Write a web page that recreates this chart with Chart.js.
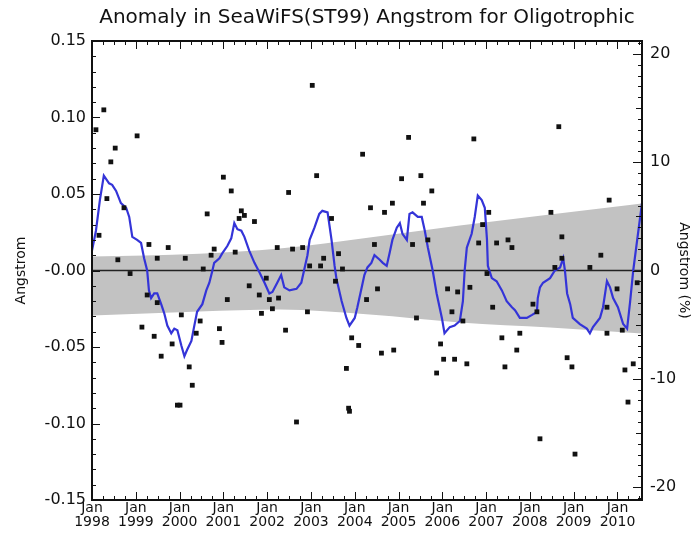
<!DOCTYPE html>
<html>
<head>
<meta charset="utf-8">
<script src="https://cdn.jsdelivr.net/npm/chart.js@4"></script>
<style>
  body { margin: 0; background: #fff; }
  #wrap { width: 696px; height: 538px; position: relative; }
</style>
</head>
<body>
<div id="wrap"><canvas id="anomalyChart"></canvas></div>
<script>
const chartTitle = 'Anomaly in SeaWiFS(ST99) Angstrom for Oligotrophic';
const xMin = 1998.0;
const xMax = 2010.56;
const pctMax = 21.2;

// 12-month running anomaly (blue line)
const lineYears = [
  1998.00,1998.09,1998.18,1998.27,1998.39,1998.46,1998.55,1998.66,1998.78,1998.85,
  1998.92,1999.03,1999.12,1999.19,1999.26,1999.30,1999.35,1999.42,1999.49,1999.58,
  1999.65,1999.72,1999.81,1999.88,1999.95,2000.04,2000.11,2000.17,2000.27,2000.33,
  2000.40,2000.52,2000.61,2000.68,2000.75,2000.79,2000.91,2000.97,2001.09,2001.18,
  2001.25,2001.32,2001.41,2001.48,2001.59,2001.71,2001.82,2001.94,2002.05,2002.12,
  2002.23,2002.32,2002.39,2002.51,2002.67,2002.78,2002.85,2002.92,2002.97,2003.08,
  2003.19,2003.26,2003.38,2003.47,2003.54,2003.58,2003.70,2003.81,2003.88,2004.00,
  2004.06,2004.16,2004.22,2004.29,2004.38,2004.45,2004.57,2004.64,2004.73,2004.80,
  2004.86,2004.96,2005.03,2005.09,2005.19,2005.25,2005.32,2005.44,2005.53,2005.60,
  2005.67,2005.78,2005.87,2005.99,2006.05,2006.17,2006.28,2006.40,2006.47,2006.51,
  2006.56,2006.67,2006.74,2006.81,2006.90,2006.97,2007.02,2007.04,2007.13,2007.24,
  2007.36,2007.47,2007.59,2007.66,2007.77,2007.93,2008.05,2008.16,2008.18,2008.23,
  2008.30,2008.46,2008.57,2008.69,2008.76,2008.80,2008.85,2008.92,2008.98,2009.14,
  2009.30,2009.37,2009.44,2009.60,2009.67,2009.76,2009.83,2009.90,2010.01,2010.13,
  2010.22,2010.29,2010.36,2010.45,2010.56
];
const lineValues = [
  0.013,0.026,0.046,0.062,0.057,0.056,0.052,0.044,0.041,0.035,
  0.022,0.020,0.018,0.008,0.000,-0.013,-0.018,-0.015,-0.015,-0.022,
  -0.028,-0.036,-0.041,-0.038,-0.039,-0.049,-0.056,-0.052,-0.046,-0.037,
  -0.027,-0.022,-0.013,-0.008,0.000,0.005,0.008,0.011,0.016,0.021,
  0.031,0.027,0.026,0.022,0.013,0.005,-0.001,-0.008,-0.015,-0.014,
  -0.008,-0.003,-0.011,-0.013,-0.012,-0.008,0.001,0.010,0.020,0.028,
  0.037,0.039,0.038,0.020,0.003,-0.005,-0.020,-0.031,-0.036,-0.031,
  -0.024,-0.011,-0.003,0.002,0.005,0.010,0.007,0.005,0.003,0.012,
  0.020,0.028,0.031,0.024,0.020,0.037,0.038,0.035,0.035,0.026,
  0.015,0.000,-0.015,-0.031,-0.041,-0.037,-0.036,-0.033,-0.020,0.000,
  0.015,0.024,0.035,0.049,0.046,0.041,0.020,0.003,-0.005,-0.007,
  -0.013,-0.020,-0.024,-0.026,-0.031,-0.031,-0.029,-0.027,-0.018,-0.011,
  -0.008,-0.005,0.000,0.002,0.008,0.000,-0.015,-0.022,-0.031,-0.035,
  -0.038,-0.041,-0.037,-0.031,-0.024,-0.007,-0.011,-0.018,-0.024,-0.035,
  -0.038,-0.020,0.000,0.020,0.044
];

// monthly anomalies (black squares)
const dotYears = [
  1998.27,1998.09,1999.03,1998.53,1998.43,1998.34,1998.73,1998.16,1999.30,1999.49,
  1999.74,2000.13,1998.59,2000.63,2001.00,2001.18,2001.41,2001.48,2001.36,2001.71,
  2001.27,2000.79,2000.72,2000.54,2002.23,2003.03,2005.23,2004.18,2003.13,2005.07,
  2005.51,2002.49,2005.76,2005.57,2004.86,2004.36,2004.68,2003.47,2002.58,2002.81,
  2004.45,2005.32,2005.67,2003.63,2003.29,2002.97,2003.22,2003.72,2008.66,2006.72,
  2009.81,2007.06,2008.48,2006.92,2008.73,2006.83,2007.24,2007.50,2007.59,2009.62,
  2009.37,1998.87,1999.26,1999.49,1999.14,1999.42,1999.58,1999.83,2000.04,2000.47,
  2000.38,2000.91,2000.97,2001.09,2000.22,2000.29,1999.95,2000.01,2001.59,2001.87,
  2001.82,2002.05,2001.98,2002.12,2002.26,2002.42,2002.67,2002.92,2003.56,2003.93,
  2004.09,2003.81,2003.86,2003.88,2004.27,2004.52,2004.61,2004.89,2005.41,2005.87,
  2005.96,2006.03,2006.28,2006.12,2006.35,2006.22,2006.56,2006.63,2006.47,2007.02,
  2007.15,2007.36,2007.43,2007.70,2007.77,2008.07,2008.16,2008.23,2008.85,2008.96,
  2009.03,2009.76,2009.76,2009.99,2010.11,2010.17,2010.36,2010.24,2010.45,2008.57,
  2008.73
];
const dotValues = [
  0.105,0.092,0.088,0.080,0.071,0.047,0.041,0.023,0.017,0.008,
  0.015,0.008,0.007,0.037,0.061,0.052,0.039,0.036,0.034,0.032,
  0.012,0.014,0.010,0.001,0.015,0.121,0.087,0.076,0.062,0.060,
  0.062,0.051,0.052,0.044,0.044,0.041,0.038,0.034,0.014,0.015,
  0.017,0.017,0.020,0.011,0.008,0.003,0.003,0.001,0.094,0.086,
  0.046,0.038,0.038,0.030,0.022,0.018,0.018,0.020,0.015,0.010,
  0.002,-0.002,-0.016,-0.021,-0.037,-0.043,-0.056,-0.048,-0.029,-0.033,
  -0.041,-0.038,-0.047,-0.019,-0.063,-0.075,-0.088,-0.088,-0.010,-0.028,
  -0.016,-0.019,-0.005,-0.025,-0.018,-0.039,-0.099,-0.027,-0.007,-0.044,
  -0.049,-0.064,-0.090,-0.092,-0.019,-0.012,-0.054,-0.052,-0.031,-0.067,
  -0.048,-0.058,-0.058,-0.012,-0.014,-0.027,-0.061,-0.011,-0.033,-0.002,
  -0.024,-0.044,-0.063,-0.052,-0.041,-0.022,-0.027,-0.110,-0.057,-0.063,
  -0.120,-0.024,-0.041,-0.012,-0.039,-0.065,-0.061,-0.086,-0.008,0.002,
  0.008
];

// trend confidence band (grey)
const bandYears = [1998.0, 2000.45, 2002.28, 2004.34, 2006.40, 2008.46, 2010.56];
const bandHigh = [0.0092, 0.0110, 0.0144, 0.0216, 0.0294, 0.0366, 0.0438];
const bandLow = [-0.0294, -0.0268, -0.0255, -0.0288, -0.0340, -0.0373, -0.0412];

const yearTicks = [1998, 1999, 2000, 2001, 2002, 2003, 2004, 2005, 2006, 2007, 2008, 2009, 2010];
const leftTickValues = [0.15, 0.10, 0.05, 0.0, -0.05, -0.10, -0.15];
const leftTickLabels = ['0.15', '0.10', '0.05', '-0.00', '-0.05', '-0.10', '-0.15'];
const rightTickValues = [20, 10, 0, -10, -20];
const rightTickLabels = ['20', '10', '0', '-10', '-20'];

const FONT = "'DejaVu Sans', sans-serif";

function pairs(xs, ys) {
    return xs.map((x, i) => ({ x: x, y: ys[i] }));
}

// IDL-style frame with inward ticks
const framePlugin = {
    id: 'frame',
    afterDatasetsDraw(chart) {
        const { ctx, chartArea: a, scales } = chart;
        const x = scales.x, y = scales.y, y2 = scales.y2;
        ctx.save();
        ctx.strokeStyle = '#111';
        ctx.lineWidth = 1;
        ctx.beginPath();
        for (let q = 0; xMin + q / 4 <= xMax + 1e-6; q++) {
            const px = Math.round(x.getPixelForValue(xMin + q / 4)) + 0.5;
            const len = q % 4 === 0 ? 8 : 4;
            ctx.moveTo(px, a.bottom); ctx.lineTo(px, a.bottom - len);
            ctx.moveTo(px, a.top); ctx.lineTo(px, a.top + len);
        }
        for (let k = -15; k <= 15; k++) {
            const py = Math.round(y.getPixelForValue(k / 100)) + 0.5;
            const len = k % 5 === 0 ? 8 : 4;
            ctx.moveTo(a.left, py); ctx.lineTo(a.left + len, py);
        }
        for (let k = -21; k <= 21; k++) {
            const py = Math.round(y2.getPixelForValue(k)) + 0.5;
            const len = k % 10 === 0 ? 9 : (k % 5 === 0 ? 6 : 4);
            ctx.moveTo(a.right, py); ctx.lineTo(a.right - len, py);
        }
        ctx.stroke();
        ctx.lineWidth = 2;
        ctx.strokeRect(a.left, a.top, a.right - a.left, a.bottom - a.top);
        ctx.restore();
    }
};

const ctx = document.getElementById('anomalyChart').getContext('2d');

new Chart(ctx, {
    type: 'scatter',
    data: {
        datasets: [
            {
                type: 'line',
                data: pairs(bandYears, bandLow),
                borderWidth: 0,
                pointRadius: 0,
                cubicInterpolationMode: 'monotone',
                fill: false,
                order: 6
            },
            {
                type: 'line',
                data: pairs(bandYears, bandHigh),
                borderWidth: 0,
                pointRadius: 0,
                cubicInterpolationMode: 'monotone',
                backgroundColor: '#c2c2c2',
                fill: '-1',
                order: 5
            },
            {
                type: 'line',
                data: pairs([xMin, xMax], [0, 0]),
                borderColor: '#222',
                borderWidth: 1.5,
                pointRadius: 0,
                fill: false,
                order: 4
            },
            {
                label: 'monthly',
                data: pairs(dotYears, dotValues),
                pointStyle: 'rect',
                pointRadius: 3.4,
                backgroundColor: '#111',
                borderWidth: 0,
                order: 2
            },
            {
                type: 'line',
                data: pairs(lineYears, lineValues),
                borderColor: '#3434d8',
                borderWidth: 2.2,
                pointRadius: 0,
                fill: false,
                order: 3
            }
        ]
    },
    options: {
        responsive: true,
        maintainAspectRatio: false,
        animation: false,
        layout: { padding: 0 },
        plugins: {
            legend: { display: false },
            tooltip: { enabled: false },
            title: {
                display: true,
                text: chartTitle,
                fullSize: false,
                color: '#111',
                font: { family: FONT, size: 20, weight: 'normal' },
                padding: { top: 6, bottom: 11 }
            }
        },
        scales: {
            x: {
                type: 'linear',
                min: xMin,
                max: xMax,
                grid: { display: false, drawTicks: false, tickLength: 0 },
                border: { display: false },
                afterBuildTicks: scale => { scale.ticks = yearTicks.map(v => ({ value: v })); },
                afterFit: scale => { scale.height = 38; },
                ticks: {
                    autoSkip: false,
                    maxRotation: 0,
                    padding: 1,
                    color: '#111',
                    font: { family: FONT, size: 14, lineHeight: 1.0 },
                    callback: value => ['Jan', String(value)]
                }
            },
            y: {
                position: 'left',
                min: -0.15,
                max: 0.15,
                grid: { display: false, drawTicks: false, tickLength: 0 },
                border: { display: false },
                afterBuildTicks: scale => { scale.ticks = leftTickValues.map(v => ({ value: v })); },
                afterFit: scale => { scale.width = 92; },
                title: {
                    display: true,
                    text: 'Angstrom',
                    color: '#111',
                    font: { family: FONT, size: 14 },
                    padding: { top: 13, bottom: 0 }
                },
                ticks: {
                    padding: 6,
                    color: '#111',
                    font: { family: FONT, size: 16 },
                    callback: (value, i) => leftTickLabels[i]
                }
            },
            y2: {
                position: 'right',
                min: -pctMax,
                max: pctMax,
                grid: { display: false, drawTicks: false, tickLength: 0 },
                border: { display: false },
                afterBuildTicks: scale => { scale.ticks = rightTickValues.map(v => ({ value: v })); },
                afterFit: scale => { scale.width = 54; },
                title: {
                    display: true,
                    text: 'Angstrom (%)',
                    color: '#111',
                    font: { family: FONT, size: 14 },
                    padding: { top: 4, bottom: 0 }
                },
                ticks: {
                    padding: 8,
                    color: '#111',
                    font: { family: FONT, size: 16 },
                    callback: (value, i) => rightTickLabels[i]
                }
            }
        }
    },
    plugins: [framePlugin]
});
</script>
</body>
</html>
